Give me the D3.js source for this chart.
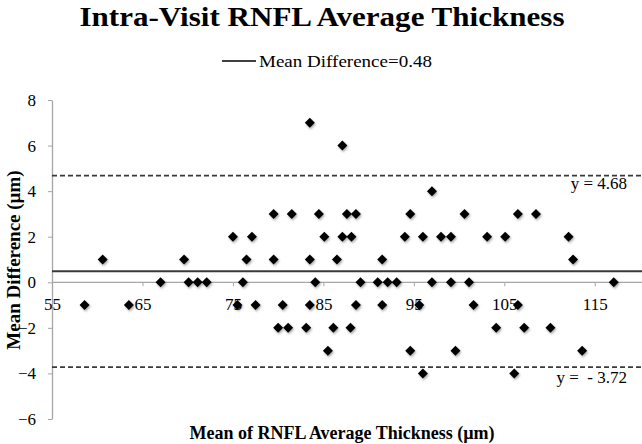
<!DOCTYPE html>
<html>
<head>
<meta charset="utf-8">
<title>Intra-Visit RNFL Average Thickness</title>
<script src="https://cdn.jsdelivr.net/npm/d3@7"></script>
<style>
  body { margin: 0; background: #fff; }
  svg { display: block; font-family: "Liberation Serif", serif; }
  .axis path, .axis line { stroke: #a6a6a6; }
  .axis text { font-size: 17px; fill: #000; font-family: "Liberation Serif", serif; }
  .limitLabel { white-space: pre; }
</style>
</head>
<body>
<svg width="642" height="444"></svg>
<script>
// Bland-Altman points: mean of the two visits vs. their difference
var meanThickness = [
  83.5, 87.1, 97.0,
  79.5, 81.5, 84.5, 87.6, 88.6, 94.6, 100.6, 106.5, 108.5,
  75.0, 77.1, 85.1, 87.1, 88.1, 94.0, 96.0, 98.0, 99.1, 103.1, 105.1, 112.1,
  60.6, 69.6, 76.5, 79.5, 83.5, 86.5, 91.5, 112.6,
  67.0, 70.1, 71.1, 72.1, 76.1, 84.1, 89.1, 91.0, 92.1, 93.1, 97.0, 99.1, 101.1, 117.1,
  58.6, 63.5, 75.5, 77.5, 80.5, 83.5, 88.6, 91.5, 95.6, 101.6, 106.5,
  80.0, 81.1, 83.1, 86.1, 88.0, 104.1, 107.2, 110.1,
  85.5, 94.6, 99.6, 113.6,
  96.0, 106.1
];
var difference = [
  7, 6, 4,
  3, 3, 3, 3, 3, 3, 3, 3, 3,
  2, 2, 2, 2, 2, 2, 2, 2, 2, 2, 2, 2,
  1, 1, 1, 1, 1, 1, 1, 1,
  0, 0, 0, 0, 0, 0, 0, 0, 0, 0, 0, 0, 0, 0,
  -1, -1, -1, -1, -1, -1, -1, -1, -1, -1, -1,
  -2, -2, -2, -2, -2, -2, -2, -2,
  -3, -3, -3, -3,
  -4, -4
];
var meanDiff = 0.48;
var limits = [4.68, -3.72];
var limitLabels = ["y = 4.68", "y =  - 3.72"];
var xTicks = [55, 65, 75, 85, 95, 105, 115];
var yTicks = [-6, -4, -2, 0, 2, 4, 6, 8];

var svg = d3.select("svg");
var x = d3.scaleLinear().domain([55, 120]).range([52, 640]);
var y = d3.scaleLinear().domain([-6, 8]).range([419, 100]);

var defs = svg.append("defs");
var f = defs.append("filter").attr("id", "shadow")
  .attr("x", "-50%").attr("y", "-50%").attr("width", "200%").attr("height", "200%");
f.append("feDropShadow").attr("dx", 1).attr("dy", 1.5)
  .attr("stdDeviation", 1.2).attr("flood-color", "#000").attr("flood-opacity", 0.35);

// title
svg.append("text").attr("x", 322).attr("y", 26)
  .attr("text-anchor", "middle").attr("font-weight", "bold").attr("font-size", 28)
  .attr("textLength", 485).attr("lengthAdjust", "spacingAndGlyphs")
  .text("Intra-Visit RNFL Average Thickness");

// legend
svg.append("line").attr("x1", 222).attr("x2", 256).attr("y1", 61).attr("y2", 61)
  .attr("stroke", "#000").attr("stroke-width", 1.5);
svg.append("text").attr("x", 259).attr("y", 67).attr("font-size", 17)
  .attr("textLength", 173).attr("lengthAdjust", "spacingAndGlyphs")
  .text("Mean Difference=" + meanDiff);

// axes
var yAxis = svg.append("g").attr("class", "axis")
  .attr("transform", "translate(" + x(55) + ",0)")
  .call(d3.axisLeft(y).tickValues(yTicks).tickSize(4).tickSizeOuter(0).tickPadding(12));
var xAxis = svg.append("g").attr("class", "axis")
  .attr("transform", "translate(0," + y(0) + ")")
  .call(d3.axisBottom(x).tickValues(xTicks).tickSize(4).tickSizeOuter(0).tickPadding(12));
xAxis.select(".domain").attr("d", "M" + x(55) + ",0H" + 642);
svg.selectAll(".axis .domain").attr("stroke-width", 1.3);

// mean and limits of agreement
svg.append("line").attr("x1", x(55)).attr("x2", 642)
  .attr("y1", y(meanDiff)).attr("y2", y(meanDiff))
  .attr("stroke", "#3a3a3a").attr("stroke-width", 2);
svg.selectAll(".limit").data(limits).enter().append("line").attr("class", "limit")
  .attr("x1", x(55)).attr("x2", 642)
  .attr("y1", function(d) { return y(d); }).attr("y2", function(d) { return y(d); })
  .attr("stroke", "#3a3a3a").attr("stroke-width", 1.8).attr("stroke-dasharray", "5,3");
svg.selectAll(".limitLabel").data(limits).enter().append("text").attr("class", "limitLabel")
  .attr("x", 627).attr("y", function(d, i) { return y(d) + (i == 0 ? 13 : 16); })
  .attr("text-anchor", "end").attr("font-size", 17)
  .text(function(d, i) { return limitLabels[i]; });

// points
var pts = meanThickness.map(function(m, i) { return [m, difference[i]]; });
svg.append("g").attr("filter", "url(#shadow)")
  .selectAll("path").data(pts).enter().append("path")
  .attr("d", "M0,-5L5,0L0,5L-5,0Z")
  .attr("transform", function(d) { return "translate(" + x(d[0]) + "," + y(d[1]) + ")"; })
  .attr("fill", "#000");

// axis titles
svg.append("text").attr("transform", "translate(20,260) rotate(-90)")
  .attr("text-anchor", "middle").attr("font-weight", "bold").attr("font-size", 19)
  .text("Mean Difference (\u00b5m)");
svg.append("text").attr("x", 342).attr("y", 439)
  .attr("text-anchor", "middle").attr("font-weight", "bold").attr("font-size", 18)
  .text("Mean of RNFL Average Thickness (\u00b5m)");
</script>
</body>
</html>
